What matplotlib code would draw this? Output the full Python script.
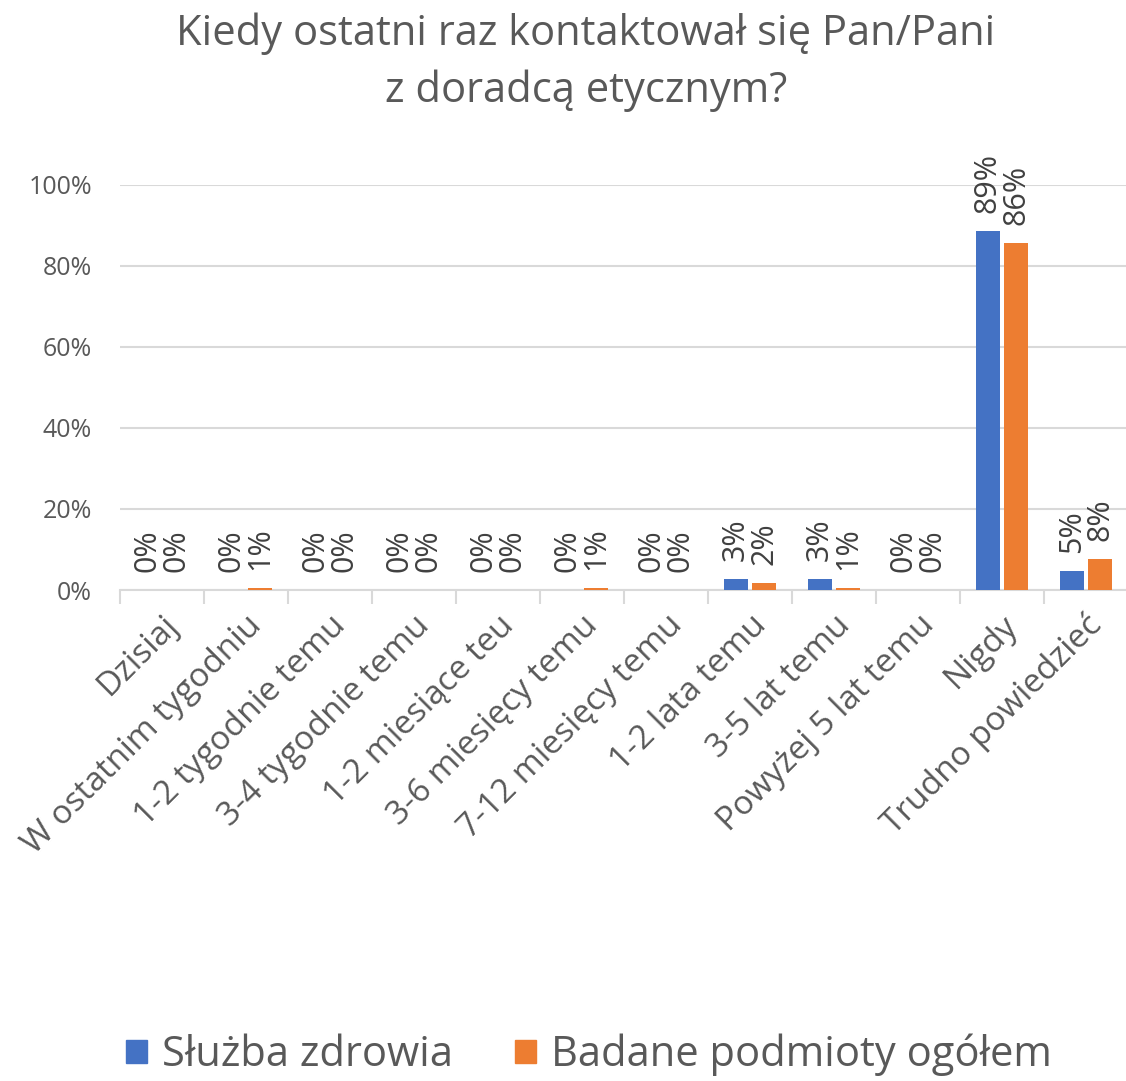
import matplotlib
matplotlib.use("Agg")
import matplotlib.pyplot as plt
from matplotlib.patches import Patch
import numpy as np

categories = ["Dzisiaj", "W ostatnim tygodniu", "1-2 tygodnie temu", "3-4 tygodnie temu",
              "1-2 miesiące teu", "3-6 miesięcy temu", "7-12 miesięcy temu", "1-2 lata temu",
              "3-5 lat temu", "Powyżej 5 lat temu", "Nigdy", "Trudno powiedzieć"]
sluzba = [0, 0, 0, 0, 0, 0, 0, 2.6, 2.6, 0, 88.6, 4.7]
ogolem = [0, 0.5, 0, 0, 0, 0.5, 0, 1.7, 0.5, 0, 85.6, 7.6]
series_names = ["Służba zdrowia", "Badane podmioty ogółem"]
yticks = [0, 20, 40, 60, 80, 100]

plt.rcParams['font.family'] = ['Open Sans', 'DejaVu Sans']
TXT = "#595959"
fig = plt.figure(figsize=(11.26, 10.81), dpi=100)
ax = fig.add_axes([120/1126, 1-590/1081, 1008/1126, 405/1081])

x = np.arange(len(categories))
w = 0.285
off = 0.167
colors = ["#4472C4", "#ED7D31"]
for vals, o, c in [(sluzba, -off, colors[0]), (ogolem, off, colors[1])]:
    ax.bar(x + o, vals, width=w, color=c, zorder=3)
    for xi, v in zip(x, vals):
        ax.annotate(f"{int(v + 0.5)}%", (xi + o, v), xytext=(0, 13), textcoords="offset points",
                    rotation=90, ha="center", va="bottom", fontsize=22, color="#404040",
                    annotation_clip=False, clip_on=False)

ax.set_xlim(-0.5, len(categories) - 0.5)
ax.set_ylim(0, 100)
ax.set_yticks(yticks)
ax.set_yticklabels([f"{t}%" for t in yticks], fontsize=18, color=TXT)
ax.yaxis.grid(True, color="#D9D9D9", linewidth=1.5, zorder=0)
ax.tick_params(axis="y", length=0, pad=20)
for s in ["top", "right", "left"]:
    ax.spines[s].set_visible(False)
ax.spines["bottom"].set_color("#D9D9D9")
ax.spines["bottom"].set_linewidth(1.5)

ax.set_xticks(np.arange(len(categories) + 1) - 0.5, minor=False)
ax.set_xticklabels([])
ax.tick_params(axis="x", length=10, color="#D9D9D9", width=1.5)
for xi, lab in zip(x, categories):
    ax.annotate(lab, (xi, 0), xytext=(8, -22), textcoords="offset points",
                rotation=45, rotation_mode="anchor", ha="right", va="center",
                fontsize=24, color=TXT, annotation_clip=False)

fig.text(586/1126, 1-62/1081, "Kiedy ostatni raz kontaktował się Pan/Pani\nz doradcą etycznym?",
         ha="center", va="center", fontsize=30, color=TXT, linespacing=1.45)

handles = [Patch(color=c) for c in colors]
fig.legend(handles, series_names, loc="center", bbox_to_anchor=(589/1126, 1-1055/1081),
           ncol=2, frameon=False, fontsize=30, handlelength=0.5, handleheight=0.5,
           handletextpad=0.35, columnspacing=1.5, labelcolor=TXT)

fig.savefig("out.png", dpi=100, facecolor="white")
